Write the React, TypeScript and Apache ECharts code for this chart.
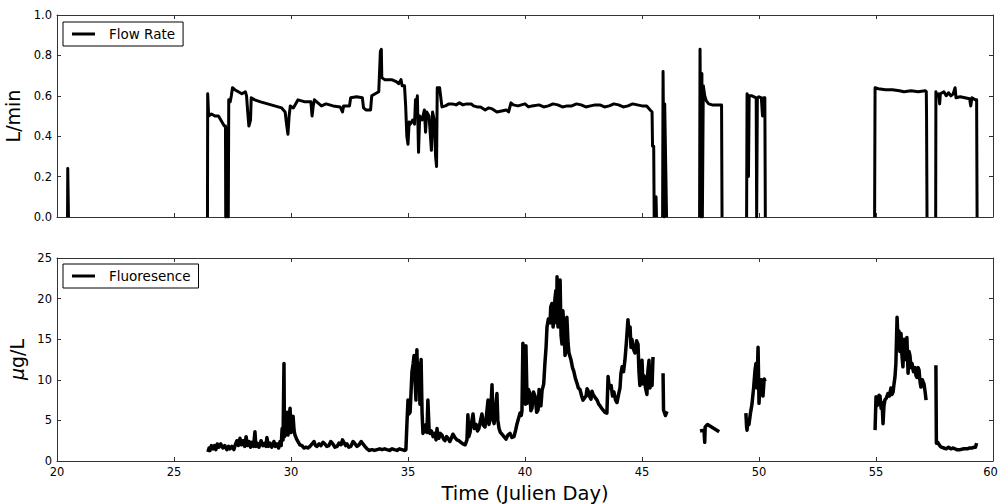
import React, { useEffect, useRef } from "react";
import * as echarts from "echarts";

// Tick labels
const xTicks = [20, 25, 30, 35, 40, 45, 50, 55, 60];
const flowTicks = [0, 0.2, 0.4, 0.6, 0.8, 1.0];
const fluorTicks = [0, 5, 10, 15, 20, 25];

// Flow rate (L/min) segments: [day, value]
const flowSeg1 = [[20.45, 0], [20.46, 0.24], [20.48, 0.24], [20.49, 0]];
const flowSeg2 = [
  [26.43, 0], [26.44, 0.61], [26.47, 0.61], [26.48, 0.5], [26.6, 0.51], [26.75, 0.5], [26.9, 0.5],
  [27.0, 0.48], [27.05, 0.47], [27.15, 0.45], [27.2, 0.45], [27.21, 0], [27.24, 0.44], [27.27, 0],
  [27.3, 0.42], [27.32, 0], [27.34, 0.58], [27.4, 0.57], [27.45, 0.6], [27.5, 0.64], [27.6, 0.63],
  [27.75, 0.62], [27.9, 0.61], [28.05, 0.62], [28.1, 0.6], [28.15, 0.52], [28.2, 0.45], [28.27, 0.48],
  [28.3, 0.59], [28.45, 0.58], [28.7, 0.57], [29.0, 0.56], [29.3, 0.55], [29.6, 0.54], [29.75, 0.52],
  [29.82, 0.45], [29.87, 0.41], [29.92, 0.5], [29.97, 0.55], [30.1, 0.54], [30.3, 0.58], [30.6, 0.57],
  [30.85, 0.57], [30.9, 0.5], [30.95, 0.55], [31.0, 0.58], [31.1, 0.57], [31.3, 0.55], [31.5, 0.56],
  [31.8, 0.55], [32.1, 0.545], [32.2, 0.52], [32.25, 0.55], [32.5, 0.55], [32.55, 0.59], [32.8, 0.595],
  [33.05, 0.59], [33.1, 0.54], [33.2, 0.53], [33.4, 0.53], [33.45, 0.6], [33.6, 0.61], [33.75, 0.62],
  [33.82, 0.82], [33.86, 0.83], [33.88, 0.69], [34.0, 0.68], [34.3, 0.68], [34.5, 0.67], [34.6, 0.66],
  [34.7, 0.68], [34.75, 0.65], [34.85, 0.65], [34.9, 0.55], [34.95, 0.4], [35.0, 0.36], [35.05, 0.47],
  [35.1, 0.46], [35.2, 0.48], [35.28, 0.46], [35.32, 0.58], [35.36, 0.56], [35.4, 0.6], [35.45, 0.32],
  [35.5, 0.5], [35.6, 0.48], [35.7, 0.53], [35.75, 0.42], [35.8, 0.52], [35.9, 0.5], [36.0, 0.33],
  [36.05, 0.52], [36.12, 0.48], [36.18, 0.3], [36.22, 0.25], [36.25, 0.64], [36.35, 0.64], [36.45, 0.545],
  [36.6, 0.55], [36.75, 0.56], [36.9, 0.56], [37.05, 0.555], [37.2, 0.565], [37.35, 0.555], [37.5, 0.56],
  [37.7, 0.56], [37.8, 0.55], [37.95, 0.545], [38.1, 0.545], [38.3, 0.53], [38.45, 0.54], [38.6, 0.535],
  [38.8, 0.52], [39.0, 0.525], [39.2, 0.53], [39.3, 0.52], [39.4, 0.565], [39.5, 0.555], [39.7, 0.55],
  [40.0, 0.56], [40.15, 0.545], [40.3, 0.55], [40.6, 0.555], [40.8, 0.545], [41.0, 0.55], [41.2, 0.56],
  [41.4, 0.555], [41.6, 0.545], [41.8, 0.55], [42.0, 0.55], [42.2, 0.56], [42.4, 0.555], [42.6, 0.545],
  [42.8, 0.55], [43.0, 0.555], [43.2, 0.555], [43.4, 0.545], [43.6, 0.55], [43.8, 0.56], [44.0, 0.555],
  [44.2, 0.545], [44.4, 0.55], [44.6, 0.56], [44.8, 0.555], [45.0, 0.55], [45.2, 0.55], [45.35, 0.53],
  [45.43, 0.52], [45.45, 0.35], [45.5, 0.35], [45.52, 0],
];
const flowSeg3 = [[45.58, 0], [45.6, 0.1], [45.62, 0]];
const flowSeg4 = [
  [45.88, 0], [45.9, 0.72], [45.93, 0.72], [45.95, 0], [45.97, 0.56], [46.0, 0.56], [46.05, 0],
];
const flowSeg5 = [
  [47.46, 0], [47.48, 0.83], [47.5, 0.5], [47.52, 0], [47.56, 0.71], [47.58, 0], [47.62, 0.65],
  [47.68, 0.6], [47.75, 0.575], [47.85, 0.56], [48.0, 0.555], [48.4, 0.555], [48.42, 0],
];
const flowSeg6 = [
  [49.47, 0], [49.49, 0.61], [49.52, 0.6], [49.55, 0.2], [49.58, 0.6], [49.7, 0.6], [49.88, 0.59],
  [49.9, 0], [49.93, 0.59], [50.0, 0.595], [50.1, 0.59], [50.15, 0.5], [50.2, 0.59], [50.25, 0.59],
  [50.27, 0],
];
const flowSeg7 = [
  [54.94, 0], [54.96, 0.64], [55.1, 0.635], [55.4, 0.63], [55.7, 0.63], [56.0, 0.625], [56.2, 0.62],
  [56.5, 0.625], [56.8, 0.62], [57.1, 0.625], [57.15, 0.62], [57.16, 0.5], [57.18, 0],
];
const flowSeg8 = [
  [57.55, 0], [57.56, 0.62], [57.6, 0.6], [57.68, 0.61], [57.72, 0.56], [57.75, 0.61], [57.9, 0.62],
  [58.0, 0.6], [58.1, 0.615], [58.2, 0.6], [58.3, 0.61], [58.38, 0.64], [58.42, 0.59], [58.6, 0.595],
  [58.8, 0.59], [59.0, 0.585], [59.05, 0.55], [59.1, 0.59], [59.25, 0.58], [59.3, 0.58], [59.32, 0],
];
const flowSegments = [flowSeg1, flowSeg2, flowSeg3, flowSeg4, flowSeg5, flowSeg6, flowSeg7, flowSeg8];

// Fluorescence (µg/L) segments: [day, value]
const fluorSeg1 = [
  [26.45, 1.1], [26.5, 1.6], [26.54, 1.3], [26.6, 1.9], [26.67, 1.5], [26.73, 1.9], [26.79, 1.4],
  [26.85, 2.1], [26.92, 1.7], [27.0, 2.1], [27.09, 1.6], [27.17, 1.9], [27.26, 1.4], [27.33, 1.8],
  [27.39, 1.5], [27.47, 1.8], [27.56, 1.4], [27.62, 2.0], [27.69, 2.5], [27.75, 1.9], [27.82, 2.8],
  [27.88, 2.0], [27.95, 2.5], [28.02, 1.8], [28.08, 3.0], [28.14, 1.9], [28.21, 2.4], [28.27, 1.7],
  [28.33, 2.3], [28.4, 1.8], [28.46, 3.6], [28.5, 1.8], [28.55, 2.2], [28.63, 1.7], [28.72, 2.5],
  [28.8, 1.9], [28.89, 2.2], [28.93, 1.8], [28.97, 2.9], [29.03, 1.8], [29.1, 2.2], [29.18, 1.7],
  [29.27, 2.4], [29.33, 1.8], [29.4, 2.1], [29.47, 1.6], [29.53, 2.4], [29.58, 1.9], [29.62, 4.0],
  [29.66, 2.6], [29.7, 12.0], [29.72, 3.0], [29.76, 5.5], [29.8, 3.2], [29.83, 6.0], [29.87, 3.2],
  [29.91, 5.0], [29.96, 6.5], [30.0, 3.5], [30.05, 5.2], [30.09, 5.5], [30.13, 3.8], [30.17, 3.2],
  [30.24, 2.7], [30.3, 2.4], [30.38, 2.0], [30.47, 1.9], [30.55, 1.6], [30.64, 1.7], [30.72, 1.6],
  [30.81, 1.8], [30.9, 2.1], [30.98, 2.4], [31.05, 1.9], [31.11, 1.8], [31.2, 2.1], [31.28, 1.9],
  [31.37, 2.3], [31.45, 2.1], [31.53, 1.8], [31.62, 1.9], [31.7, 2.4], [31.79, 2.1], [31.88, 1.7],
  [31.97, 1.8], [32.05, 2.2], [32.14, 2.0], [32.2, 2.6], [32.26, 2.3], [32.33, 1.9], [32.39, 2.1],
  [32.47, 1.7], [32.56, 1.8], [32.65, 2.4], [32.74, 2.1], [32.82, 1.8], [32.91, 2.0], [33.0, 2.4],
  [33.08, 2.1], [33.16, 1.8], [33.25, 1.5], [33.35, 1.3], [33.46, 1.4], [33.57, 1.3], [33.68, 1.4],
  [33.79, 1.5], [33.89, 1.4], [34.0, 1.5], [34.1, 1.4], [34.21, 1.3], [34.32, 1.5], [34.42, 1.4],
  [34.53, 1.3], [34.63, 1.5], [34.74, 1.4], [34.85, 1.3], [34.91, 1.4], [34.96, 5.0], [35.0, 7.5],
  [35.04, 5.8], [35.09, 6.0], [35.13, 8.5], [35.17, 11.0], [35.22, 12.0], [35.26, 13.0], [35.3, 10.0],
  [35.34, 7.5], [35.38, 13.7], [35.42, 9.0], [35.47, 12.0], [35.51, 7.0], [35.56, 12.5], [35.6, 6.0],
  [35.64, 3.4], [35.7, 3.8], [35.77, 4.5], [35.81, 3.5], [35.85, 7.5], [35.9, 4.0], [35.94, 3.4],
  [36.0, 3.7], [36.07, 3.0], [36.13, 3.4], [36.2, 2.6], [36.24, 4.0], [36.28, 2.9], [36.32, 2.8],
  [36.38, 3.4], [36.45, 3.2], [36.52, 2.7], [36.58, 2.5], [36.65, 3.0], [36.71, 2.8], [36.75, 2.6],
  [36.79, 2.4], [36.85, 2.8], [36.92, 3.3], [37.0, 2.9], [37.09, 2.6], [37.17, 2.5], [37.26, 2.3],
  [37.35, 2.1], [37.44, 2.0], [37.52, 2.6], [37.56, 5.7], [37.6, 3.0], [37.65, 3.5], [37.72, 4.8],
  [37.78, 5.8], [37.84, 4.0], [37.91, 4.5], [37.97, 3.7], [38.03, 4.0], [38.1, 5.0], [38.16, 5.8],
  [38.22, 4.4], [38.29, 4.2], [38.35, 5.5], [38.42, 7.5], [38.46, 4.5], [38.5, 5.0], [38.55, 7.0],
  [38.59, 9.4], [38.63, 5.2], [38.68, 4.6], [38.74, 6.5], [38.8, 8.3], [38.84, 5.0], [38.89, 4.0],
  [38.95, 3.5], [39.02, 3.3], [39.1, 3.0], [39.19, 2.7], [39.27, 3.2], [39.36, 3.4], [39.44, 2.9],
  [39.53, 3.0], [39.6, 3.8], [39.66, 4.6], [39.72, 5.2], [39.79, 5.9], [39.84, 5.6], [39.87, 6.2],
  [39.91, 14.5], [39.95, 9.0], [40.0, 12.0], [40.02, 7.0], [40.04, 14.2], [40.09, 7.1], [40.15, 8.8],
  [40.21, 8.3], [40.25, 6.2], [40.3, 6.5], [40.36, 8.5], [40.43, 8.0], [40.5, 6.0], [40.56, 6.3],
  [40.6, 8.8], [40.64, 8.5], [40.68, 6.8], [40.73, 8.7], [40.8, 9.5], [40.85, 12.0], [40.9, 14.0],
  [40.94, 16.5], [41.0, 17.5], [41.07, 17.0], [41.1, 19.0], [41.15, 19.4], [41.2, 16.5], [41.24, 18.0],
  [41.28, 20.0], [41.32, 21.0], [41.35, 17.0], [41.37, 22.7], [41.41, 16.5], [41.45, 20.0], [41.5, 22.3],
  [41.54, 15.5], [41.58, 14.4], [41.62, 18.5], [41.67, 16.0], [41.71, 13.0], [41.75, 13.5], [41.79, 17.7],
  [41.84, 14.5], [41.88, 13.3], [41.93, 12.8], [41.97, 12.4], [42.03, 11.5], [42.09, 11.0], [42.15, 10.2],
  [42.22, 9.6], [42.28, 9.0], [42.35, 8.8], [42.42, 8.0], [42.48, 7.5], [42.55, 7.8], [42.61, 8.0],
  [42.65, 8.9], [42.69, 8.7], [42.75, 8.0], [42.82, 7.6], [42.86, 8.6], [42.91, 8.2], [43.0, 7.8],
  [43.08, 7.5], [43.15, 7.0], [43.21, 6.8], [43.27, 6.5], [43.33, 6.3], [43.42, 6.0], [43.5, 5.9],
  [43.55, 10.4], [43.6, 9.0], [43.68, 9.3], [43.74, 8.0], [43.8, 8.5], [43.87, 7.5], [43.93, 7.2],
  [44.0, 8.2], [44.06, 9.0], [44.1, 10.8], [44.15, 11.6], [44.21, 11.0], [44.27, 12.4], [44.33, 14.5],
  [44.4, 17.4], [44.45, 15.5], [44.49, 16.5], [44.53, 14.0], [44.57, 15.0], [44.63, 13.8], [44.7, 13.3],
  [44.77, 14.8], [44.83, 14.4], [44.87, 11.0], [44.91, 9.3], [44.95, 11.5], [45.0, 12.4], [45.04, 9.5],
  [45.09, 10.5], [45.15, 9.0], [45.21, 8.2], [45.25, 11.0], [45.3, 12.4], [45.34, 9.0], [45.38, 9.8],
  [45.43, 9.3], [45.47, 12.8],
];
const fluorSeg2 = [[45.9, 10.8], [45.92, 6.3], [46.0, 5.6], [46.07, 6.1]];
const fluorSeg3 = [[47.48, 3.7], [47.65, 3.8], [47.68, 2.3], [47.7, 4.2], [47.8, 4.5], [48.3, 3.6]];
const fluorSeg4 = [
  [49.44, 5.9], [49.47, 4.2], [49.49, 3.8], [49.53, 5.0], [49.57, 4.5], [49.63, 5.8], [49.7, 7.0],
  [49.77, 9.0], [49.83, 11.2], [49.87, 12.0], [49.91, 9.0], [49.96, 14.0], [50.0, 7.1], [50.04, 9.5],
  [50.09, 10.0], [50.13, 8.5], [50.17, 8.0], [50.22, 10.1], [50.26, 9.8],
];
const fluorSeg5 = [
  [54.96, 3.8], [55.0, 7.9], [55.04, 6.8], [55.09, 7.0], [55.13, 8.1], [55.17, 8.0], [55.22, 6.5],
  [55.26, 7.2], [55.3, 4.6], [55.34, 6.8], [55.38, 7.5], [55.45, 7.8], [55.51, 8.3], [55.57, 8.0],
  [55.64, 9.0], [55.68, 8.2], [55.73, 8.5], [55.77, 9.5], [55.81, 10.3], [55.85, 12.0], [55.9, 17.7],
  [55.94, 15.0], [55.98, 16.0], [56.02, 13.5], [56.07, 15.7], [56.11, 13.0], [56.15, 11.6], [56.2, 15.0],
  [56.24, 14.0], [56.28, 12.5], [56.32, 15.2], [56.37, 10.8], [56.41, 13.5], [56.45, 13.0], [56.5, 11.5],
  [56.54, 12.0], [56.6, 11.0], [56.67, 11.5], [56.71, 10.5], [56.75, 10.3], [56.8, 11.5], [56.84, 11.2],
  [56.88, 9.8], [56.92, 9.1], [56.98, 10.0], [57.05, 9.5], [57.1, 8.5], [57.14, 7.5],
];
const fluorSeg6 = [
  [57.56, 11.8], [57.58, 2.2], [57.64, 2.3], [57.7, 2.0], [57.75, 1.8], [57.8, 1.7], [57.9, 1.6],
  [58.0, 1.5], [58.1, 1.7], [58.2, 1.5], [58.3, 1.6], [58.45, 1.4], [58.6, 1.4], [58.75, 1.5],
  [58.9, 1.5], [59.0, 1.6], [59.1, 1.6], [59.2, 1.7], [59.25, 1.7], [59.3, 2.2],
];
const fluorSegments = [fluorSeg1, fluorSeg2, fluorSeg3, fluorSeg4, fluorSeg5, fluorSeg6];

const FONT = "DejaVu Sans";
const FRAME = "#333";

export default function App() {
  const ref = useRef<HTMLDivElement>(null);
  useEffect(() => {
    if (!ref.current) return;
    const chart = echarts.init(ref.current, undefined, { renderer: "svg" });
    const lineAxis = { show: true, onZero: false, lineStyle: { color: FRAME, width: 1 } };
    const tick = { show: true, inside: true, length: 4, lineStyle: { color: FRAME, width: 1 } };
    const xMax = xTicks[xTicks.length - 1];
    const xBase = (gridIndex: number, position: string, showLabel: boolean) => ({
      type: "value",
      gridIndex,
      position,
      min: xTicks[0],
      max: xMax,
      interval: 5,
      axisLine: lineAxis,
      axisTick: tick,
      splitLine: { show: false },
      axisLabel: {
        show: showLabel,
        fontFamily: FONT,
        fontSize: 11.5,
        color: "#000",
        margin: 5,
        formatter: (v: number) => (v === xMax ? `{e|${v}}` : String(v)),
        rich: { e: { fontFamily: FONT, fontSize: 11.5, color: "#000", padding: [0, 5, 0, 0] } },
      },
    });
    const yBase = (gridIndex: number, position: string, ticks: number[], showLabel: boolean, dec: number) => ({
      type: "value",
      gridIndex,
      position,
      min: ticks[0],
      max: ticks[ticks.length - 1],
      interval: ticks[1] - ticks[0],
      axisLine: lineAxis,
      axisTick: tick,
      splitLine: { show: false },
      axisLabel: {
        show: showLabel,
        fontFamily: FONT,
        fontSize: 11.5,
        color: "#000",
        margin: 5,
        formatter: (v: number) => v.toFixed(dec),
      },
    });
    const series: any[] = [];
    flowSegments.forEach((seg) =>
      series.push({
        name: "Flow Rate",
        type: "line",
        xAxisIndex: 0,
        yAxisIndex: 0,
        data: seg,
        showSymbol: false,
        symbol: "none",
        lineStyle: { color: "#000", width: 3, join: "round" },
        itemStyle: { color: "#000" },
      })
    );
    fluorSegments.forEach((seg) =>
      series.push({
        name: "Fluoresence",
        type: "line",
        xAxisIndex: 1,
        yAxisIndex: 1,
        data: seg,
        showSymbol: false,
        symbol: "none",
        lineStyle: { color: "#000", width: 3.5, join: "round" },
        itemStyle: { color: "#000" },
      })
    );
    const legendBase = {
      left: 63,
      orient: "horizontal",
      icon: "rect",
      itemWidth: 23,
      itemHeight: 3,
      borderColor: "#000",
      borderWidth: 1,
      borderRadius: 0,
      padding: [5, 8, 5, 9],
      selectedMode: false,
      textStyle: { fontFamily: FONT, fontSize: 13.5, color: "#000", padding: [0, 0, 0, 9] },
    };
    const option: any = {
      animation: false,
      backgroundColor: "#fff",
      grid: [
        { left: 57, top: 15, width: 936, height: 202, outerBoundsMode: "none", containLabel: false },
        { left: 57, top: 258, width: 936, height: 203, outerBoundsMode: "none", containLabel: false },
      ],
      legend: [
        { ...legendBase, top: 22, data: ["Flow Rate"] },
        { ...legendBase, top: 264, data: ["Fluoresence"] },
      ],
      xAxis: [
        xBase(0, "bottom", false),
        {
          ...xBase(1, "bottom", true),
          name: "Time (Julien Day)",
          nameLocation: "middle",
          nameGap: 22,
          nameTextStyle: { fontFamily: FONT, fontSize: 19.5, color: "#000" },
        },
        xBase(0, "top", false),
        xBase(1, "top", false),
      ],
      yAxis: [
        {
          ...yBase(0, "left", flowTicks, true, 1),
          name: "L/min",
          nameLocation: "middle",
          nameRotate: 90,
          nameGap: 28,
          nameTextStyle: { fontFamily: FONT, fontSize: 19, color: "#000" },
        },
        {
          ...yBase(1, "left", fluorTicks, true, 0),
          name: "{i|μ}g/L",
          nameLocation: "middle",
          nameRotate: 90,
          nameGap: 28,
          nameTextStyle: {
            fontFamily: FONT,
            fontSize: 19,
            color: "#000",
            rich: { i: { fontFamily: FONT, fontSize: 19, fontStyle: "italic", color: "#000" } },
          },
        },
        yBase(0, "right", flowTicks, false, 1),
        yBase(1, "right", fluorTicks, false, 0),
      ],
      series,
    };
    chart.setOption(option);
    return () => chart.dispose();
  }, []);
  return (
    <div
      ref={ref}
      style={{ position: "fixed", left: 0, top: 0, width: 998, height: 504, background: "#fff" }}
    />
  );
}
